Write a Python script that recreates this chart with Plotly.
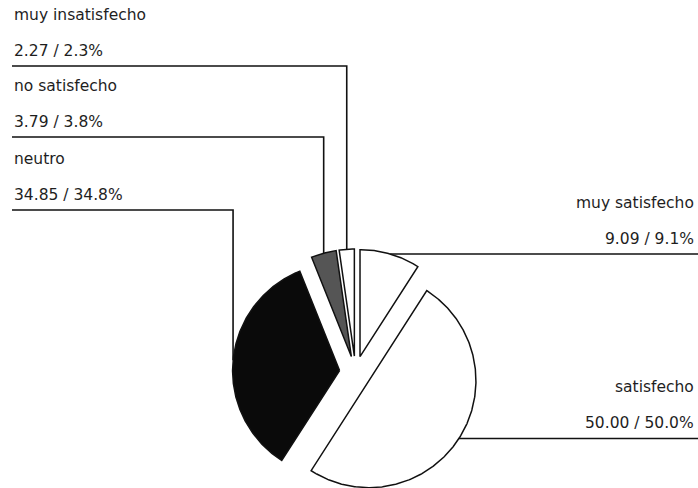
import numpy as np
import plotly.graph_objects as go

# ---- data ----
categories = ["muy satisfecho", "satisfecho", "neutro", "no satisfecho", "muy insatisfecho"]
values = [9.09, 50.00, 34.85, 3.79, 2.27]
percents = [9.1, 50.0, 34.8, 3.8, 2.3]

# ---- style / layout ----
fills = ["#ffffff", "#ffffff", "#0a0a0a", "#555555", "#ffffff"]
sides = ["right", "right", "left", "left", "left"]
left_line_y = {"neutro": 210, "no satisfecho": 137, "muy insatisfecho": 66}
W, H = 698, 488
CX, CY, R, PULL = 355.5, 372.0, 107.0, 16.0
LEFT_X, RIGHT_X = 12, 698
FONT = dict(family="DejaVu Sans", size=15.5, color="#1e1e1e")
LINE = dict(color="#111111", width=1.6)

fig = go.Figure()
annotations = []

total = sum(values)
start = 0.0
for cat, v, p, fill, side in zip(categories, values, percents, fills, sides):
    span = 360.0 * v / total
    a0, a1 = start, start + span
    start = a1
    mid = np.radians((a0 + a1) / 2)
    dx, dy = np.sin(mid), -np.cos(mid)
    ox, oy = CX + PULL * dx, CY + PULL * dy
    th = np.radians(np.linspace(a0, a1, max(8, int(span * 2))))
    xs = np.concatenate([[ox], ox + R * np.sin(th), [ox]])
    ys = np.concatenate([[oy], oy - R * np.cos(th), [oy]])
    fig.add_trace(go.Scatter(x=xs, y=ys, mode="lines", fill="toself",
                             fillcolor=fill, line=dict(color="#111111", width=1.5),
                             hoverinfo="skip", showlegend=False))
    # leader line
    px, py = ox + R * dx, oy + R * dy
    label2 = f"{v:.2f} / {p:.1f}%"
    if side == "right":
        lx, ly = [px, RIGHT_X], [py, py]
        base_y = py
        tx, xanchor = 696, "right"
    else:
        base_y = left_line_y[cat]
        lx, ly = [px, px, LEFT_X], [py, base_y, base_y]
        tx, xanchor = LEFT_X, "left"
    fig.add_trace(go.Scatter(x=lx, y=ly, mode="lines", line=LINE,
                             hoverinfo="skip", showlegend=False))
    annotations.append(dict(x=tx, y=base_y - 51, text=cat, xanchor=xanchor,
                            yanchor="middle", showarrow=False, font=FONT,
                            xref="x", yref="y"))
    annotations.append(dict(x=tx, y=base_y - 15, text=label2, xanchor=xanchor,
                            yanchor="middle", showarrow=False, font=FONT,
                            xref="x", yref="y"))

fig.update_layout(
    width=W, height=H, autosize=False,
    margin=dict(l=0, r=0, t=0, b=0),
    paper_bgcolor="white", plot_bgcolor="white",
    xaxis=dict(range=[0, W], visible=False, fixedrange=True),
    yaxis=dict(range=[H, 0], visible=False, fixedrange=True),
    annotations=annotations,
    showlegend=False,
)
fig.write_html("out.html")
